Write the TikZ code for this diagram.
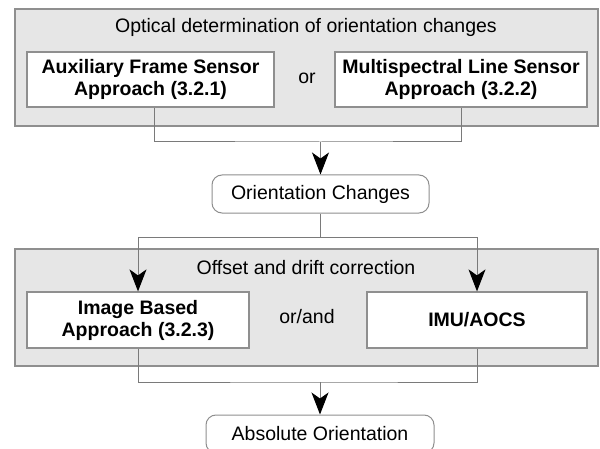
\documentclass[tikz,border=0pt]{standalone}
\usepackage{fontspec}
\setmainfont{Liberation Sans}
\usepackage{tikz}
\usetikzlibrary{arrows.meta,calc,positioning}
\definecolor{feld}{HTML}{E6E6E6}
\definecolor{rand}{HTML}{8F8F8F}
\definecolor{linie}{HTML}{7A7A7A}

\begin{document}
\begin{tikzpicture}[x=0.5pt,y=-0.5pt,
  font=\fontsize{9.75}{11}\selectfont,
  gruppe/.style={draw=rand,fill=feld,line width=0.6pt},
  verfahren/.style={draw=rand,fill=white,line width=0.6pt,align=center,font=\fontsize{9.75}{11}\selectfont\bfseries,inner sep=0pt},
  ergebnis/.style={draw=rand,fill=white,line width=0.5pt,rounded corners=5pt,inner sep=0pt,minimum height=19pt},
  verbinder/.style={draw=linie,line width=0.5pt},
  pfeil/.style={verbinder,-{Stealth[length=11pt,width=8.5pt,inset=3pt,color=black]}}]
%Bildausschnitt wie im Original (600x449 Pixel, ein Pixel = 0.5pt)
\clip (0,0) rectangle (600,449);
%Graue Felder
\draw[gruppe] (15,9) rectangle (598,126);
\draw[gruppe] (15,249) rectangle (598,366);
\node (titel1) at (306,27) {Optical determination of orientation changes};
\node (titel2) at (306,268) {Offset and drift correction};
%Verfahren
\node[verfahren,minimum width=123.5pt,minimum height=27.5pt] (aux) at (150.5,79.5) {Auxiliary Frame Sensor\\Approach (3.2.1)};
\node (oder1) at (307,78) {or};
\node[verfahren,minimum width=126pt,minimum height=27.5pt] (msl) at (461,79.5) {Multispectral Line Sensor\\Approach (3.2.2)};
\node[verfahren,minimum width=111pt,minimum height=28pt] (img) at (138,320) {Image Based\\Approach (3.2.3)};
\node (oder2) at (307,317) {or/and};
\node[verfahren,minimum width=110pt,minimum height=28pt] (imu) at (477,320) {IMU/AOCS};
%Ergebnisse
\node[ergebnis,minimum width=108.5pt] (oc) at (320.5,194) {Orientation Changes};
\node[ergebnis,minimum width=114pt] (abs) at (320,434) {Absolute Orientation};
%Verbindungen
\coordinate (j1) at (320.5,142);
\coordinate (j2) at (320.5,237);
\coordinate (j3) at (320,382);
\draw[verbinder] ([xshift=1.75pt]aux.south) |- (j1) -| (msl.south);
\draw[pfeil] (j1) -- (oc.north);
\draw[verbinder] (oc.south) -- (j2);
\draw[pfeil] (j2) -| (img.north);
\draw[pfeil] (j2) -| (imu.north);
\draw[verbinder] (img.south) |- (j3) -| (imu.south);
\draw[pfeil] (j3) -- (abs.north);
\end{tikzpicture}
\end{document}
